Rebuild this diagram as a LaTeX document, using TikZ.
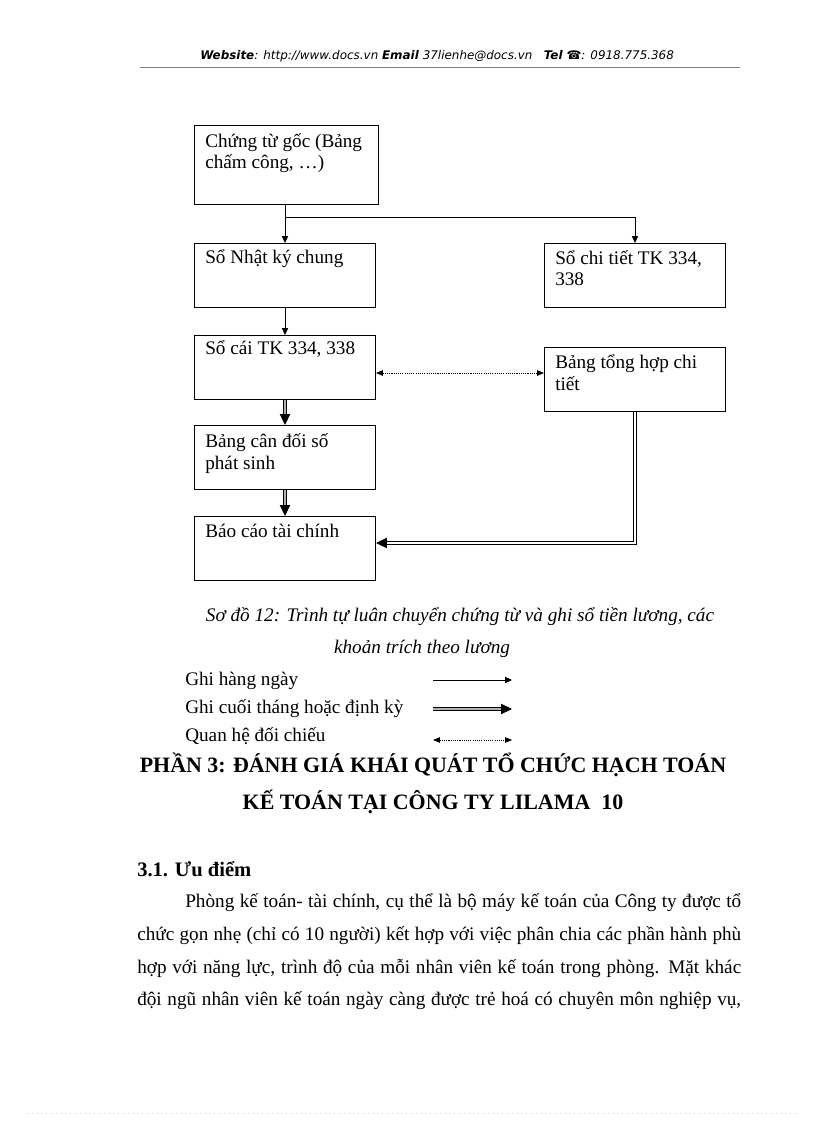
\documentclass[tikz,border=0pt]{standalone}
\usepackage{fontspec}
\setmainfont{Liberation Serif}
\newfontfamily\hdrfont{DejaVu Sans}
\usepackage{tikz}
\usetikzlibrary{arrows.meta, positioning}

\newcommand{\fullline}[1]{\hbox to 440.4pt{#1}}
\newcommand{\firstline}[1]{\hbox to 405.4pt{#1}}

\begin{document}
\begin{tikzpicture}[
  x=0.7292pt, y=-0.7292pt,
  box/.style={
    draw, line width=0.7pt, anchor=north west, inner sep=0pt,
    minimum width=132pt, minimum height=47pt,
  },
  boxtext/.style={anchor=base west, inner sep=0pt, align=left,
    font=\fontsize{14}{16}\selectfont},
  bodyline/.style={anchor=base west, inner sep=0pt,
    font=\fontsize{14}{16}\selectfont},
  heading/.style={anchor=base, inner sep=0pt,
    font=\bfseries\fontsize{16}{18}\selectfont},
  daily/.style={line width=0.6pt, -{Triangle[length=5pt,width=4.5pt]}},
  periodic/.style={double, double=gray!60, double distance=0.8pt, line width=0.7pt,
    -{Triangle[length=8pt,width=7.5pt]}},
  crosscheck/.style={line width=0.6pt, dash pattern=on 0.8pt off 0.8pt,
    {Triangle[length=5pt,width=4pt]}-{Triangle[length=5pt,width=4pt]}},
]
\useasboundingbox (0,0) rectangle (816,1123);
\fill[white] (0,0) rectangle (816,1123);

% header
\node[anchor=base west, inner sep=0pt, font=\hdrfont\fontsize{8.7}{10}\selectfont] (hdr) at (200,60)
  {\textbf{\textit{Website}}\textit{: http://www.docs.vn} \textbf{\textit{Email}} \textit{37lienhe@docs.vn}\ \ \ \textbf{\textit{Tel}} ☎\textit{: 0918.775.368}};
\draw[gray, line width=0.5pt] (140,67) -- (740,67);

% boxes
\node[box, minimum width=134pt, minimum height=57.6pt] (goc) at (194,125) {};
\node[box] (nhatky)  at (194,243) {};
\node[box] (chitiet) at (544,243) {};
\node[box] (socai)   at (194,335) {};
\node[box] (tonghop) at (544,347) {};
\node[box] (candoi)  at (194,425) {};
\node[box] (baocao)  at (194,516) {};

% two-line texts sit on their last line
\node[boxtext] (goc-t)     at ([shift={(11,44)}]goc.north west)     {Chứng từ gốc (Bảng\\chấm công, …)};
\node[boxtext] (nhatky-t)  at ([shift={(11,21)}]nhatky.north west)  {Sổ Nhật ký chung};
\node[boxtext] (chitiet-t) at ([shift={(11,43)}]chitiet.north west) {Sổ chi tiết\ TK 334,\\338};
\node[boxtext] (socai-t)   at ([shift={(11,20)}]socai.north west)   {Sổ cái TK 334, 338};
\node[boxtext] (tonghop-t) at ([shift={(11,43)}]tonghop.north west) {Bảng tổng hợp chi\\tiết};
\node[boxtext] (candoi-t)  at ([shift={(11,44)}]candoi.north west)  {Bảng cân đối số\\phát sinh};
\node[boxtext] (baocao-t)  at ([shift={(11,21)}]baocao.north west)  {Báo cáo tài chính};

% connectors
\draw[daily] (nhatky.north |- goc.south) -- (nhatky.north);
\draw[daily] (nhatky.north |- goc.south) ++(0,12) -| (chitiet.north);
\draw[daily] (nhatky.south) -- (socai.north);
\draw[crosscheck] (socai.east |- 0,373) -- (tonghop.west |- 0,373);
\draw[periodic] (socai.south) -- (candoi.north);
\draw[periodic] (candoi.south) -- (baocao.north);
\coordinate (turn) at (tonghop.south |- 0,543);
\draw[periodic, double=white, double distance=1.1pt, line join=miter]
  (tonghop.south) -- (turn) -- (baocao.east |- turn);

% caption
\node[anchor=base, inner sep=0pt, font=\itshape\fontsize{14}{16}\selectfont] (cap1) at (460,621)
  {Sơ đồ 12: Trình tự luân chuyển chứng từ và ghi sổ tiền lương, các};
\node[anchor=base, inner sep=0pt, font=\itshape\fontsize{14}{16}\selectfont] (cap2) at (422,653)
  {khoản trích theo lương};

% legend
\node[bodyline] (lg1) at (185,685) {Ghi hàng ngày};
\node[bodyline] (lg2) at (185,713) {Ghi cuối tháng hoặc định kỳ};
\node[bodyline] (lg3) at (185,741) {Quan hệ đối chiếu};
\coordinate (d1) at (433,680); \coordinate (d2) at (512,680);
\coordinate (m1) at (433,709); \coordinate (m2) at (512,709);
\coordinate (q1) at (433,740); \coordinate (q2) at (512,740);
\draw[daily] (d1) -- (d2);
\draw[periodic] (m1) -- (m2);
\draw[crosscheck] (q1) -- (q2);

% section
\node[heading] (h1) at (433,772) {PHẦN 3: ĐÁNH GIÁ KHÁI QUÁT TỔ CHỨC HẠCH TOÁN};
\node[heading] (h2) at (433,809) {KẾ TOÁN TẠI CÔNG TY LILAMA\ \ 10};
\node[bodyline, font=\bfseries\fontsize{15}{17}\selectfont] (sec) at (137,876) {3.1. Ưu điểm};

\node[bodyline] (p1) at (185,907)
  {\firstline{Phòng kế toán- tài chính, cụ thể là bộ máy kế toán của Công ty được tổ}};
\node[bodyline] (p2) at (137,940)
  {\fullline{chức gọn nhẹ (chỉ có 10 người) kết hợp với việc phân chia các phần hành phù}};
\node[bodyline] (p3) at (137,973)
  {\fullline{hợp với năng lực, trình độ của mỗi nhân viên kế toán trong phòng. Mặt khác}};
\node[bodyline] (p4) at (137,1005)
  {\fullline{đội ngũ nhân viên kế toán ngày càng được trẻ hoá có chuyên môn nghiệp vụ,}};

\draw[gray!40, dash pattern=on 0.5pt off 3pt] (27,1113) -- (795,1113);
\end{tikzpicture}
\end{document}
